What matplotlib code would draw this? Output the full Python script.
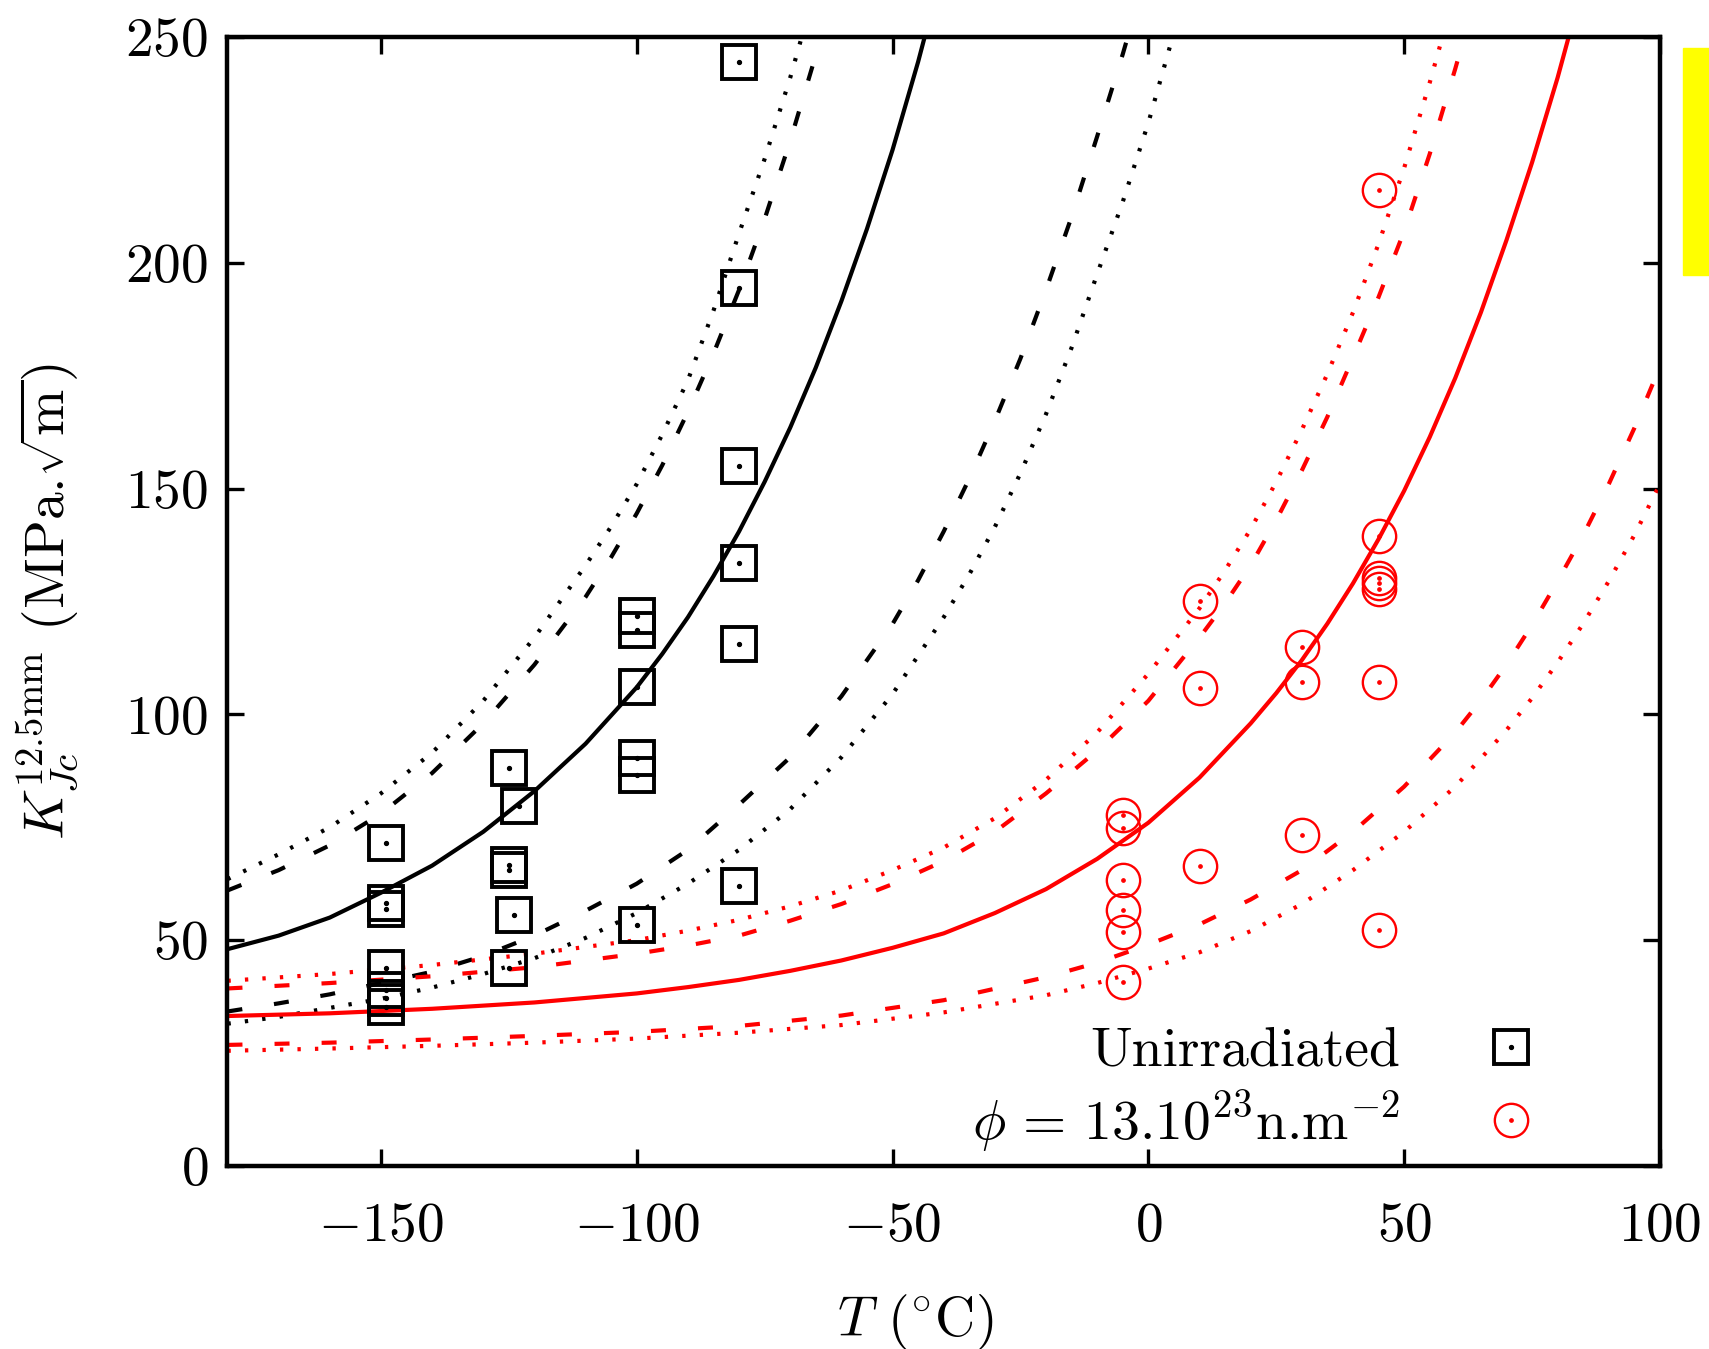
import matplotlib
import numpy as np

matplotlib.use("Agg")
import matplotlib.pyplot as plt  # noqa: E402
from matplotlib.lines import Line2D  # noqa: E402
from matplotlib.patches import Rectangle  # noqa: E402

# --- data ------------------------------------------------------------------
# unirradiated specimens (T in degC, K in MPa.sqrt(m))
unirr_T = [-80, -80, -80, -80, -80, -80,
           -100, -100, -100, -100, -100, -100,
           -125, -123, -125, -125, -124, -125,
           -149, -149, -149, -149, -149, -149, -149]
unirr_K = [244.5, 194.4, 154.9, 133.5, 115.6, 61.9,
           121.7, 118.6, 106.0, 90.3, 86.6, 53.4,
           88.1, 79.6, 66.7, 65.5, 55.6, 43.8,
           71.5, 58.2, 57.0, 43.8, 39.0, 37.1, 35.3]

# irradiated specimens
irr_T = [-5, -5, -5, -5, -5, -5,
         10, 10, 10,
         30, 30, 30,
         45, 45, 45, 45, 45, 45, 45]
irr_K = [77.7, 74.8, 63.3, 56.7, 51.9, 40.8,
         125.0, 105.8, 66.4,
         115.0, 107.2, 73.3,
         216.1, 139.4, 130.2, 129.0, 127.8, 107.2, 52.3]

# master curves, unirradiated (black)
blk_med_T = [-180, -170, -160, -150, -140, -130, -120, -110, -100, -95, -90, -85, -80,
             -75, -70, -65, -60, -55, -50, -45, -40]
blk_med_K = [48, 51, 55, 60.5, 66.5, 74, 83, 93.5, 106, 113.4, 121.5, 130.6, 140.5,
             151.5, 163.5, 176.8, 191.5, 207.5, 225, 244.5, 266]
blk_dash_hi_T = [-180, -170, -160, -150, -140, -130, -120, -110, -105, -100, -95, -90,
                 -85, -80, -75, -70, -65, -62]
blk_dash_hi_K = [61, 65.5, 71, 78, 87, 98, 111, 126, 134.8, 144.5, 155.2, 167,
                 179.9, 194, 209.7, 227, 246, 258]
blk_dot_hi_T = [-180, -170, -160, -150, -140, -130, -120, -110, -105, -100, -95, -90,
                -85, -80, -75, -70, -66]
blk_dot_hi_K = [63.5, 69, 75, 82.5, 91.5, 103, 117, 133, 141.6, 151, 162, 174,
                189.4, 206.5, 223, 241, 257]
blk_dash_lo_T = [-180, -170, -160, -150, -140, -130, -120, -110, -100, -90, -80, -70, -60,
                 -50, -45, -40, -35, -30, -25, -20, -15, -10, -5, -2]
blk_dash_lo_K = [34.2, 36, 38, 40.5, 43, 46.5, 51, 56.5, 62.5, 70, 80, 90.5, 104,
                 120, 129.7, 140.5, 152.2, 165, 178.8, 194, 210.2, 228, 246.2, 258]
blk_dot_lo_T = [-180, -170, -160, -150, -140, -130, -120, -110, -100, -90, -80, -70, -60,
                -50, -40, -35, -30, -25, -20, -15, -10, -5, 0, 6]
blk_dot_lo_K = [31.5, 33, 35, 37, 39.5, 42.5, 46, 50.5, 56, 62.5, 70, 79, 90.5,
                104.5, 121.5, 131, 141.5, 153.4, 166.5, 181.2, 197.5, 213.5, 231, 255]

# master curves, irradiated (red)
red_med_T = [-180, -160, -140, -120, -100, -90, -80, -70, -60, -50, -40, -30, -20, -10, 0,
             10, 20, 25, 30, 35, 40, 45, 50, 55, 60, 65, 70, 75, 80, 86]
red_med_K = [33.2, 33.8, 34.8, 36.2, 38.2, 39.6, 41.2, 43.2, 45.5, 48.3, 51.5, 56, 61.3, 68,
             76, 86, 98, 104.7, 112, 120.1, 129, 138.8, 149.5, 161.4, 174.5, 189, 205,
             222.2, 241, 266]
red_dash_hi_T = [-180, -160, -140, -120, -100, -90, -80, -70, -60, -50, -40, -30, -20, -10,
                 0, 10, 15, 20, 25, 30, 35, 40, 45, 50, 55, 60, 64]
red_dash_hi_K = [39.3, 40.5, 42, 44, 47, 48.8, 51, 54.3, 58, 62.4, 67.5, 74, 82.5, 92,
                 103, 117, 124.6, 133, 143, 154, 165.9, 179, 192.4, 207, 224.1, 243, 259]
red_dot_hi_T = [-180, -160, -140, -120, -100, -90, -80, -70, -60, -50, -40, -30, -20, -10,
                0, 10, 15, 20, 25, 30, 35, 40, 45, 50, 55, 57, 60]
red_dot_hi_K = [41, 42.5, 44.5, 47, 50, 52.1, 54.5, 57.5, 61, 65.5, 70.5, 77, 85.5, 96,
                109, 123.5, 131.9, 141, 151.5, 163, 175.4, 189, 204.2, 221, 239.9, 248, 260]
red_dash_lo_T = [-180, -160, -140, -120, -100, -80, -60, -40, -20, -10, 0, 10, 20, 30,
                 40, 50, 60, 65, 70, 75, 80, 85, 90, 95, 100]
red_dash_lo_K = [26.8, 27.3, 28, 28.8, 29.7, 31, 33.3, 36.7, 41.8, 45, 49, 53.5, 59, 65.5,
                 74, 84, 96, 103.1, 111, 119.8, 129.5, 139.7, 151, 163.4, 177]
red_dot_lo_T = [-180, -160, -140, -120, -100, -80, -60, -40, -20, -10, 0, 10, 20, 30,
                40, 50, 60, 70, 75, 80, 85, 90, 95, 100]
red_dot_lo_K = [25.5, 26, 26.6, 27.3, 28.2, 29.5, 31.2, 34, 37.8, 40.5, 43.7, 47.3, 52, 58,
                65.5, 74, 84, 96.5, 103.6, 111.5, 120.1, 129.5, 139.7, 151]

xticks = [-150, -100, -50, 0, 50, 100]
yticks = [0, 50, 100, 150, 200, 250]
legend_labels = ["Unirradiated", r"$\phi\, =\, 13.10^{23}$n.m$^{-2}$"]

# --- style -------------------------------------------------------------------
plt.rcParams.update({
    "font.family": "serif",
    "font.serif": ["cmr10"],
    "mathtext.fontset": "cm",
    "axes.unicode_minus": False,
    "axes.formatter.use_mathtext": True,
})
FS = 40
LW = 3.0
DASH = (0, (3.6, 7.7))
DOT = (0, (0.8, 3.4))
SQ_MS = 24
CI_MS = 24

fig = plt.figure(figsize=(17.09, 13.49), dpi=100)
ax = fig.add_axes([0.1331, 0.1357, 0.8382, 0.8369])

curves = [
    (blk_dot_hi_T, blk_dot_hi_K, "k", DOT),
    (blk_dash_hi_T, blk_dash_hi_K, "k", DASH),
    (blk_med_T, blk_med_K, "k", "-"),
    (blk_dash_lo_T, blk_dash_lo_K, "k", DASH),
    (blk_dot_lo_T, blk_dot_lo_K, "k", DOT),
    (red_dot_hi_T, red_dot_hi_K, "r", DOT),
    (red_dash_hi_T, red_dash_hi_K, "r", DASH),
    (red_med_T, red_med_K, "r", "-"),
    (red_dash_lo_T, red_dash_lo_K, "r", DASH),
    (red_dot_lo_T, red_dot_lo_K, "r", DOT),
]
for t, k, c, ls in curves:
    ax.plot(t, k, color=c, ls=ls, lw=LW, dash_capstyle="butt")

ax.plot(unirr_T, unirr_K, ls="none", marker="s", ms=SQ_MS, mfc="none", mec="k", mew=2.8)
ax.plot(unirr_T, unirr_K, ls="none", marker="o", ms=2.8, color="k")
ax.plot(irr_T, irr_K, ls="none", marker="o", ms=CI_MS, mfc="none", mec="r", mew=1.7)
ax.plot(irr_T, irr_K, ls="none", marker="o", ms=2.4, color="r")

ax.set_xlim(-180, 100)
ax.set_ylim(0, 250)
ax.set_xticks(xticks)
ax.set_xticklabels([f"${v}$" for v in xticks])
ax.set_yticks(yticks)
ax.set_yticklabels([f"${v}$" for v in yticks])
ax.tick_params(direction="in", length=12, width=2.4, top=True, right=True,
               labelsize=FS, pad=14)
ax.tick_params(axis="x", pad=26)
for s in ax.spines.values():
    s.set_linewidth(3.2)

ax.set_xlabel(r"$T$ ($^{\circ}$C)", fontsize=FS)
ax.xaxis.set_label_coords(0.48, -0.112)
ax.set_ylabel(r"$K_{Jc}^{12.5\mathrm{mm}}$ (MPa.$\sqrt{\mathrm{m}}$)", fontsize=FS)
ax.yaxis.set_label_coords(-0.102, 0.5)

sq = Line2D([], [], ls="none", marker="s", ms=SQ_MS, mfc="none", mec="k", mew=2.8)
sqd = Line2D([], [], ls="none", marker="o", ms=2.8, color="k")
ci = Line2D([], [], ls="none", marker="o", ms=CI_MS, mfc="none", mec="r", mew=1.7)
cid = Line2D([], [], ls="none", marker="o", ms=2.4, color="r")
ax.legend([(sq, sqd), (ci, cid)], legend_labels, loc="lower right",
          bbox_to_anchor=(0.935, 0.01), markerfirst=False, frameon=False,
          fontsize=FS, handlelength=2.0, handletextpad=1.0, borderpad=0,
          borderaxespad=0, labelspacing=0.2)

# yellow block cut by the right edge of the picture
fig.patches.append(Rectangle((0.9848, 0.7961), 0.03, 0.1683, transform=fig.transFigure,
                             color="#ffff00", zorder=0))

fig.savefig("out.png", dpi=100)
